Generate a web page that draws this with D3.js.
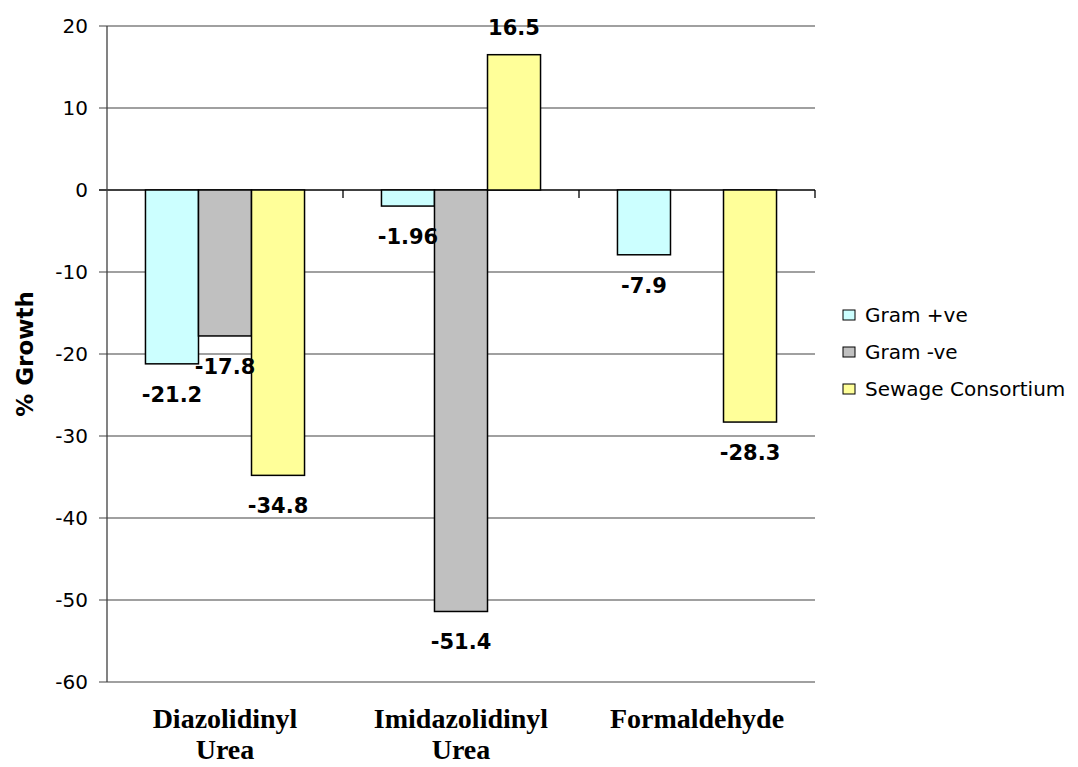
<!DOCTYPE html>
<html>
<head>
<meta charset="utf-8">
<script src="https://cdn.jsdelivr.net/npm/d3@7"></script>
<style>
  body { margin: 0; background: #fff; }
  .tick_label { font-family: "DejaVu Sans", sans-serif; font-size: 20px; fill: #000; }
  .bar_label { font-family: "DejaVu Sans", sans-serif; font-size: 21px; font-weight: bold; fill: #000; }
  .cat_label { font-family: "Liberation Serif", "Times New Roman", serif; font-size: 28px; font-weight: bold; fill: #000; }
  .legend_label { font-family: "DejaVu Sans", sans-serif; font-size: 20px; fill: #000; }
  #y_title { font-family: "DejaVu Sans", sans-serif; font-size: 23px; font-weight: bold; }
</style>
</head>
<body>
<script>
// chart data
var categories = ["Diazolidinyl|Urea", "Imidazolidinyl|Urea", "Formaldehyde"];
var series = ["Gram +ve", "Gram -ve", "Sewage Consortium"];
var gramPos = [-21.2, -1.96, -7.9];
var gramNeg = [-17.8, -51.4, null];
var sewage = [-34.8, 16.5, -28.3];
var yTicks = [20, 10, 0, -10, -20, -30, -40, -50, -60];

var colors = ["#ccffff", "#c0c0c0", "#ffff99"];
var values = [gramPos, gramNeg, sewage];

var width = 1078, height = 767;
var plot = {left: 107, right: 815, top: 26, bottom: 682};

var svg = d3.select("body")
            .append("svg")
            .attr("width", width)
            .attr("height", height);

var yScale = d3.scaleLinear()
               .domain([-60, 20])
               .range([plot.bottom, plot.top]);

var x0 = d3.scaleBand()
           .domain(d3.range(categories.length))
           .range([plot.left, plot.right])
           .paddingInner(0.326)
           .paddingOuter(0.163);

var x1 = d3.scaleBand()
           .domain(d3.range(series.length))
           .range([0, x0.bandwidth()]);

var step = x0.step();

//Gridlines
svg.append("g")
   .selectAll("line")
   .data(yTicks)
   .enter()
   .append("line")
   .attr("x1", plot.left - 8)
   .attr("x2", plot.right)
   .attr("y1", function(d) { return yScale(d); })
   .attr("y2", function(d) { return yScale(d); })
   .attr("stroke", function(d) { return d == 0 ? "#000" : "#808080"; })
   .attr("stroke-width", 1.3);

//Y tick labels
svg.append("g")
   .selectAll("text")
   .data(yTicks)
   .enter()
   .append("text")
   .attr("class", "tick_label")
   .attr("x", 88)
   .attr("y", function(d) { return yScale(d); })
   .attr("dy", "0.36em")
   .attr("text-anchor", "end")
   .text(function(d) { return d; });

//Y axis line
svg.append("line")
   .attr("x1", plot.left).attr("x2", plot.left)
   .attr("y1", plot.top).attr("y2", plot.bottom)
   .attr("stroke", "#404040")
   .attr("stroke-width", 1.3);

//Category tick marks on the zero line
svg.append("g")
   .selectAll("line")
   .data(d3.range(categories.length))
   .enter()
   .append("line")
   .attr("x1", function(d) { return plot.left + step * (d + 1); })
   .attr("x2", function(d) { return plot.left + step * (d + 1); })
   .attr("y1", yScale(0))
   .attr("y2", yScale(0) + 8)
   .attr("stroke", "#000")
   .attr("stroke-width", 1.3);

//Bars
var flat = [];
values.forEach(function(vals, s) {
  vals.forEach(function(v, c) {
    if (v !== null) flat.push({s: s, c: c, v: v});
  });
});

svg.append("g")
   .selectAll("rect")
   .data(flat)
   .enter()
   .append("rect")
   .attr("x", function(d) { return x0(d.c) + x1(d.s); })
   .attr("y", function(d) { return yScale(Math.max(0, d.v)); })
   .attr("width", x1.bandwidth())
   .attr("height", function(d) { return Math.abs(yScale(d.v) - yScale(0)); })
   .attr("fill", function(d) { return colors[d.s]; })
   .attr("stroke", "#000")
   .attr("stroke-width", 1.5);

//Bar labels
svg.append("g")
   .selectAll("text")
   .data(flat)
   .enter()
   .append("text")
   .attr("class", "bar_label")
   .attr("x", function(d) { return x0(d.c) + x1(d.s) + x1.bandwidth() / 2; })
   .attr("y", function(d) { return d.v < 0 ? yScale(d.v) + 38 : yScale(d.v) - 20; })
   .attr("text-anchor", "middle")
   .text(function(d) { return d.v; });

//Category labels
var catText = svg.append("g")
   .selectAll("text")
   .data(categories)
   .enter()
   .append("text")
   .attr("class", "cat_label")
   .attr("text-anchor", "middle");

catText.selectAll("tspan")
   .data(function(d, i) {
     return d.split("|").map(function(t) { return {t: t, i: i}; });
   })
   .enter()
   .append("tspan")
   .attr("x", function(d) { return x0(d.i) + x0.bandwidth() / 2; })
   .attr("y", function(d, j) { return 728 + j * 31; })
   .text(function(d) { return d.t; });

//Y axis title
svg.append("text")
   .attr("id", "y_title")
   .attr("transform", "translate(33," + ((plot.top + plot.bottom) / 2) + ") rotate(270)")
   .attr("text-anchor", "middle")
   .text("% Growth");

//Legend
var legend = svg.selectAll(".legend")
                .data(series)
                .enter().append("g")
                .attr("class", "legend");

legend.append("rect")
  .attr("x", 843)
  .attr("y", function(d, i) { return 315 + 37 * i - 5; })
  .attr("width", 12)
  .attr("height", 10)
  .attr("fill", function(d, i) { return colors[i]; })
  .attr("stroke", "#000")
  .attr("stroke-width", 1);

legend.append("text")
  .attr("class", "legend_label")
  .attr("x", 865)
  .attr("y", function(d, i) { return 315 + 37 * i; })
  .attr("dy", "0.36em")
  .text(function(d) { return d; });
</script>
</body>
</html>
